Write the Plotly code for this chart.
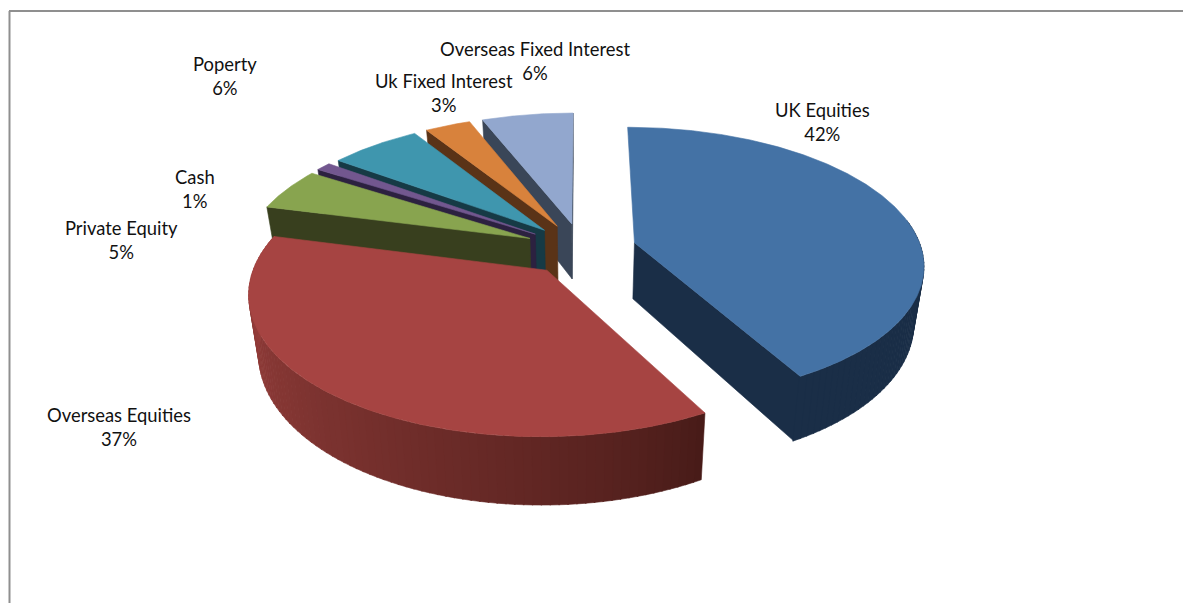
import numpy as np
import plotly.graph_objects as go

categories = ["UK Equities", "Overseas Equities", "Private Equity", "Cash",
              "Poperty", "Uk Fixed Interest", "Overseas Fixed Interest"]
values = [42, 37, 5, 1, 6, 3, 6]
top_colors = ["#4472a5", "#a64442", "#88a44f", "#72578f", "#3f96ae", "#d8823c", "#92a7ce"]
side_colors = ["#1a2e47", "#451a17", "#383f1e", "#2c2140", "#163a45", "#5a3317", "#3a4658"]
label_x = [822, 119, 121, 195, 225, 444, 535]
label_y = [122, 427, 240, 189, 76, 93, 61]

W, H = 1183, 603
X0, Y0, RX, RY, K = 582, 249, 287, 134.5, 0.15
PULL = [0.19, 0.195, 0.20, 0.20, 0.195, 0.195, 0.195]
DEPTH, SHRINK = 56.5, 0.97
START = 0.0
draw_order = [6, 5, 4, 3, 2, 0, 1]


def project(U, V):
    w = 1 - K * V
    return X0 + RX * U / w, Y0 + RY * V / w, w


def disc(theta, r, mid, pull):
    t, m = np.radians(theta), np.radians(mid)
    return (r * np.sin(t) + pull * np.sin(m), -r * np.cos(t) - pull * np.cos(m))


def top_pt(theta, r, mid, pull):
    x, y, _ = project(*disc(theta, r, mid, pull))
    return x, y


def bottom_pt(theta, r, mid, pull):
    x, y, w = project(*disc(theta, r, mid, pull))
    return X0 + (x - X0) * SHRINK, y + DEPTH / w


def poly(fig, pts, color):
    xs = [p[0] for p in pts] + [pts[0][0]]
    ys = [p[1] for p in pts] + [pts[0][1]]
    fig.add_trace(go.Scatter(x=xs, y=ys, mode="lines", fill="toself", fillcolor=color,
                             line=dict(color=color, width=0.6), hoverinfo="skip",
                             showlegend=False))


def mix(a, b, f):
    ca = [int(a[i:i + 2], 16) for i in (1, 3, 5)]
    cb = [int(b[i:i + 2], 16) for i in (1, 3, 5)]
    return "rgb(%d,%d,%d)" % tuple(round(p + (q - p) * f) for p, q in zip(ca, cb))


fig = go.Figure()
shares = np.array(values, dtype=float) / sum(values) * 360
starts = START + np.concatenate([[0], np.cumsum(shares)[:-1]])

for i in draw_order:
    a, b = starts[i], starts[i] + shares[i]
    mid = (a + b) / 2
    p = PULL[i]
    side = side_colors[i]
    # radial walls
    if 180 < (a % 360) < 360:
        poly(fig, [top_pt(a, 0, mid, p), top_pt(a, 1, mid, p),
                   bottom_pt(a, 1, mid, p), bottom_pt(a, 0, mid, p)], side)
    if 0 < (b % 360) < 180:
        poly(fig, [top_pt(b, 0, mid, p), top_pt(b, 1, mid, p),
                   bottom_pt(b, 1, mid, p), bottom_pt(b, 0, mid, p)], side)
    # outer wall, built from narrow strips
    wall_lo, wall_hi = max(a, 80), min(b, 280)
    if i == 1:
        wall_hi = min(b, 285)
    if wall_hi > wall_lo:
        n = max(2, int((wall_hi - wall_lo) / 1.5))
        edges = np.linspace(wall_lo, wall_hi, n + 1)
        for e0, e1 in zip(edges[:-1], edges[1:]):
            if i == 1:
                f = min(1.0, max(0.0, ((e0 + e1) / 2 - 150) / 125)) ** 0.8
                col = mix(side, "#9a403d", f)
            else:
                col = side
            poly(fig, [top_pt(e0, 1, mid, p), top_pt(e1 + 0.2, 1, mid, p),
                       bottom_pt(e1 + 0.2, 1, mid, p), bottom_pt(e0, 1, mid, p)], col)
    # top face
    arc = np.linspace(a, b, max(4, int(shares[i] * 2)))
    poly(fig, [top_pt(a, 0, mid, p)] + [top_pt(t, 1, mid, p) for t in arc], top_colors[i])

for name, val, lx, ly in zip(categories, values, label_x, label_y):
    fig.add_annotation(x=lx, y=ly, text=f"{name}<br>{val}%", showarrow=False,
                       align="center", xanchor="center", yanchor="middle",
                       font=dict(family="Lato", size=18.4, color="#111111"))

fig.add_shape(type="line", x0=9, y0=11, x1=W, y1=11, line=dict(color="#8f8f8f", width=2))
fig.add_shape(type="line", x0=9.5, y0=11, x1=9.5, y1=H, line=dict(color="#8f8f8f", width=2))

fig.update_layout(width=W, height=H, margin=dict(l=0, r=0, t=0, b=0),
                  paper_bgcolor="white", plot_bgcolor="white", showlegend=False,
                  xaxis=dict(range=[0, W], visible=False, fixedrange=True),
                  yaxis=dict(range=[H, 0], visible=False, fixedrange=True))
fig.write_html("out.html", post_script="document.body.style.margin='0';document.body.style.overflow='hidden';",
               config=dict(displayModeBar=False))
